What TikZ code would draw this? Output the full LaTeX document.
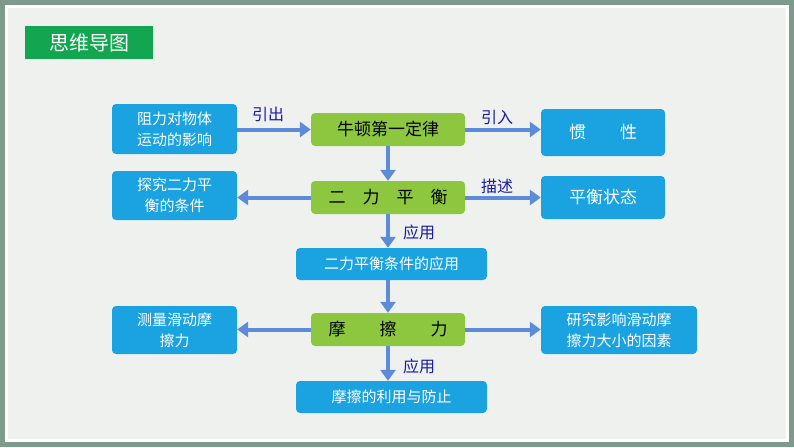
\documentclass[tikz,border=0pt]{standalone}
\usepackage{fontspec}
\setmainfont{Noto Sans CJK SC}
\usetikzlibrary{arrows.meta}
\definecolor{bl}{HTML}{1AA3E0}
\definecolor{gr}{HTML}{8DC63F}
\definecolor{ar}{HTML}{5B8BD9}
\definecolor{lb}{HTML}{1A1AA8}
\tikzset{
 bx/.style={rounded corners=4pt,inner sep=0pt,align=center,font=\fontsize{15}{21}\selectfont},
 bb/.style={bx,fill=bl,text=white},
 gb/.style={bx,fill=gr,text=black,font=\fontsize{17}{19}\selectfont},
 ar/.style={draw=ar,line width=4pt,-{Triangle[length=11pt,width=15pt]}},
 lab/.style={text=lb,font=\fontsize{16}{18}\selectfont}
}
\begin{document}
\begin{tikzpicture}[x=1pt,y=-1pt]
\useasboundingbox (0,0) rectangle (794,447);
\fill[color={rgb,255:red,126;green,154;blue,138}] (0,0) rectangle (794,447);
\fill[white] (5,5) rectangle (789,442);
\fill[color={rgb,255:red,239;green,241;blue,238}] (8,8) rectangle (786,439);
\node[fill={rgb,255:red,18;green,166;blue,80},text=white,minimum width=128pt,minimum height=33pt,inner sep=0pt,font=\fontsize{20}{22}\selectfont] (t) at (89,42.5) {思维导图};
\node[bb,minimum width=125pt,minimum height=50pt] (A) at (174.5,129) {阻力对物体\\运动的影响};
\node[gb,minimum width=154pt,minimum height=33pt] (B) at (388,129.5) {牛顿第一定律};
\node[bb,minimum width=124pt,minimum height=47pt,font=\fontsize{17}{19}\selectfont] (C) at (603,132.5) {惯\qquad 性};
\node[bb,minimum width=125pt,minimum height=49pt] (D) at (174.5,195.5) {探究二力平\\衡的条件};
\node[gb,minimum width=154pt,minimum height=33pt] (E) at (388,197.5) {二\quad 力\quad 平\quad 衡};
\node[bb,minimum width=124pt,minimum height=43pt,font=\fontsize{17}{19}\selectfont] (F) at (603,197.5) {平衡状态};
\node[bb,minimum width=191pt,minimum height=32pt] (G) at (391.5,264) {二力平衡条件的应用};
\node[bb,minimum width=125pt,minimum height=48pt] (H) at (174.5,330) {测量滑动摩\\擦力};
\node[gb,minimum width=154pt,minimum height=33pt] (I) at (388,329.5) {摩\qquad 擦\qquad 力};
\node[bb,minimum width=156pt,minimum height=48pt] (J) at (619,330) {研究影响滑动摩\\擦力大小的因素};
\node[bb,minimum width=191pt,minimum height=32pt] (K) at (391.5,397) {摩擦的利用与防止};
\draw[ar] (A.east|-B) -- (B);
\draw[ar] (B) -- (B-|C.west);
\draw[ar] (B) -- (E);
\draw[ar] (E) -- (D.east|-E);
\draw[ar] (E) -- (E-|F.west);
\draw[ar] (E) -- (E|-G.north);
\draw[ar] (G.south-|I) -- (I);
\draw[ar] (I) -- (H.east|-I);
\draw[ar] (I) -- (I-|J.west);
\draw[ar] (I) -- (I|-K.north);
\node[lab] (l1) at (268,114) {引出};
\node[lab] (l2) at (497,117) {引入};
\node[lab] (l3) at (497,186) {描述};
\node[lab] (l4) at (419,232) {应用};
\node[lab] (l5) at (419,366) {应用};
\end{tikzpicture}
\end{document}
